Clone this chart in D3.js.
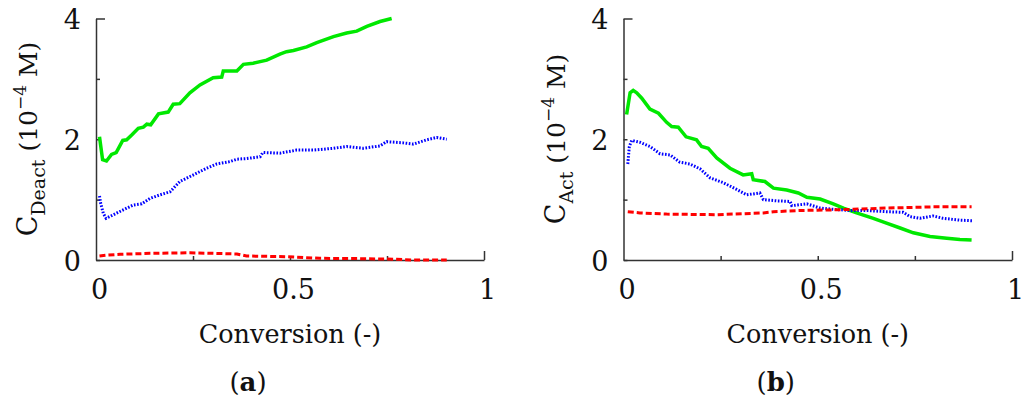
<!DOCTYPE html>
<html>
<head>
<meta charset="utf-8">
<script src="https://cdn.jsdelivr.net/npm/d3@7"></script>
<style>
  html, body { margin: 0; padding: 0; background: #fff; }
  svg { display: block; }
  text { font-family: "DejaVu Serif", serif; fill: #111; }
</style>
</head>
<body>
<svg id="chart" width="1024" height="402"></svg>
<script>
// ---- data ----
const xTicks = [0, 0.25, 0.5, 0.75, 1];
const xTickLabels = [0, 0.5, 1];
const yTicks = [0, 1, 2, 3, 4];
const yTickLabels = [0, 2, 4];

// Panel (a): C_Deact
const aGreen = [[0.009,2.04],[0.017,1.66],[0.027,1.64],[0.040,1.75],[0.052,1.78],[0.069,1.98],[0.079,1.99],[0.092,2.07],[0.109,2.18],[0.122,2.20],[0.131,2.25],[0.141,2.24],[0.161,2.42],[0.186,2.45],[0.199,2.58],[0.216,2.59],[0.242,2.77],[0.268,2.90],[0.302,3.02],[0.324,3.03],[0.328,3.13],[0.363,3.13],[0.380,3.24],[0.405,3.26],[0.440,3.31],[0.474,3.41],[0.491,3.45],[0.509,3.47],[0.543,3.53],[0.569,3.60],[0.612,3.70],[0.646,3.76],[0.672,3.79],[0.698,3.87],[0.732,3.95],[0.762,4.00]];
const aBlue = [[0.009,1.06],[0.012,0.94],[0.019,0.77],[0.026,0.69],[0.045,0.75],[0.070,0.83],[0.096,0.91],[0.118,0.93],[0.139,1.02],[0.165,1.08],[0.191,1.13],[0.216,1.30],[0.251,1.41],[0.285,1.52],[0.311,1.59],[0.345,1.63],[0.363,1.67],[0.388,1.68],[0.423,1.71],[0.430,1.78],[0.474,1.77],[0.517,1.82],[0.560,1.82],[0.612,1.85],[0.646,1.88],[0.689,1.85],[0.732,1.89],[0.749,1.96],[0.792,1.94],[0.818,1.92],[0.852,1.99],[0.878,2.03],[0.904,2.00]];
const aRed = [[0.009,0.066],[0.028,0.08],[0.062,0.094],[0.139,0.11],[0.242,0.12],[0.363,0.10],[0.388,0.066],[0.491,0.055],[0.577,0.028],[0.689,0.022],[0.775,0.012],[0.818,0.0],[0.904,0.0]];

// Panel (b): C_Act
const bGreen = [[0.008,2.41],[0.017,2.77],[0.025,2.81],[0.034,2.77],[0.047,2.68],[0.068,2.50],[0.090,2.43],[0.111,2.28],[0.124,2.21],[0.141,2.20],[0.161,2.04],[0.188,1.99],[0.201,1.88],[0.218,1.85],[0.240,1.69],[0.274,1.52],[0.308,1.41],[0.330,1.43],[0.334,1.33],[0.364,1.30],[0.386,1.19],[0.420,1.16],[0.450,1.11],[0.472,1.04],[0.506,1.01],[0.540,0.93],[0.566,0.86],[0.600,0.78],[0.643,0.69],[0.677,0.61],[0.712,0.53],[0.746,0.45],[0.789,0.39],[0.832,0.36],[0.866,0.34],[0.896,0.33]];
const bBlue = [[0.011,1.59],[0.015,1.88],[0.021,1.98],[0.042,1.95],[0.068,1.88],[0.094,1.76],[0.120,1.74],[0.145,1.62],[0.171,1.59],[0.197,1.51],[0.223,1.36],[0.257,1.28],[0.291,1.17],[0.317,1.08],[0.351,1.11],[0.360,1.00],[0.394,0.98],[0.429,0.97],[0.433,0.90],[0.472,0.93],[0.506,0.86],[0.540,0.84],[0.583,0.82],[0.626,0.82],[0.677,0.80],[0.720,0.79],[0.737,0.72],[0.763,0.69],[0.797,0.73],[0.823,0.69],[0.866,0.66],[0.900,0.65]];
const bRed = [[0.011,0.80],[0.042,0.78],[0.111,0.76],[0.240,0.75],[0.360,0.78],[0.386,0.80],[0.455,0.82],[0.540,0.83],[0.591,0.84],[0.677,0.86],[0.797,0.88],[0.896,0.88]];

// ---- drawing ----
const svg = d3.select("#chart");
const styles = {
  green: { stroke: "#00e800", width: 3.5, dash: null },
  blue:  { stroke: "#0000ff", width: 3, dash: "1.6,1.6" },
  red:   { stroke: "#ff0000", width: 3, dash: "6,3" }
};

function drawPanel(cfg) {
  const x = d3.scaleLinear().domain([0, 1]).range([cfg.x0, cfg.x1]);
  const y = d3.scaleLinear().domain([0, 4]).range([260, 18.5]);
  const g = svg.append("g");

  // y axis
  const ya = g.append("g").attr("transform", `translate(${cfg.x0},0)`)
    .call(d3.axisLeft(y).tickValues(yTicks).tickSizeInner(-4).tickSizeOuter(0).tickPadding(15)
      .tickFormat(d => yTickLabels.includes(d) ? d3.format("")(d) : ""));
  ya.select(".domain").attr("stroke", "#333").attr("stroke-width", 1.5);
  ya.selectAll(".tick line").attr("stroke", "#333").attr("stroke-width", 1.5)
    .attr("x2", d => d === 4 ? 9 : 4);
  ya.selectAll(".tick text").attr("font-size", 27).attr("font-family", "DejaVu Serif").attr("fill", "#111")
    .attr("dy", "0.38em");

  // x axis
  const xa = g.append("g").attr("transform", "translate(0,260)")
    .call(d3.axisBottom(x).tickValues(xTicks).tickSizeInner(-4).tickSizeOuter(0).tickPadding(20)
      .tickFormat(d => xTickLabels.includes(d) ? d3.format("")(d) : ""));
  xa.select(".domain").attr("stroke", "#333").attr("stroke-width", 1.5);
  xa.selectAll(".tick line").attr("stroke", "#333").attr("stroke-width", 1.5)
    .attr("y2", d => d === 1 ? -9 : (d === 0 ? 0 : -4));
  xa.selectAll(".tick text").attr("font-size", 27).attr("font-family", "DejaVu Serif").attr("fill", "#111")
    .attr("dx", 3);

  // lines
  const line = d3.line().x(d => x(d[0])).y(d => y(d[1]));
  cfg.series.forEach(s => {
    const st = styles[s.style];
    g.append("path").datum(s.data)
      .attr("d", line)
      .attr("fill", "none")
      .attr("stroke", st.stroke)
      .attr("stroke-width", st.width)
      .attr("stroke-linejoin", "miter")
      .attr("stroke-dasharray", st.dash);
  });

  // y title
  const yt = g.append("text")
    .attr("transform", `translate(${cfg.x0 - 59},139) rotate(-90)`)
    .attr("text-anchor", "middle")
    .attr("font-size", 25);
  yt.append("tspan").attr("font-size", 27).text("C");
  yt.append("tspan").attr("font-size", 19).attr("dy", 8).text(cfg.sub);
  yt.append("tspan").attr("dy", -8).text(" (10");
  yt.append("tspan").attr("font-size", 17).attr("dy", -11).text("\u22124");
  yt.append("tspan").attr("dy", 11).text(" M)");

  // x title
  g.append("text")
    .attr("x", (cfg.x0 + cfg.x1) / 2)
    .attr("y", 343)
    .attr("text-anchor", "middle")
    .attr("font-size", 25.5)
    .text("Conversion (-)");

  // panel label
  const pl = g.append("text")
    .attr("x", (cfg.x0 + cfg.x1) / 2 - 42)
    .attr("y", 391)
    .attr("text-anchor", "middle")
    .attr("font-size", 26);
  pl.append("tspan").text("(");
  pl.append("tspan").attr("font-weight", "bold").text(cfg.label);
  pl.append("tspan").text(")");
}

drawPanel({ x0: 96, x1: 484, sub: "Deact", label: "a",
  series: [{ data: aGreen, style: "green" }, { data: aBlue, style: "blue" }, { data: aRed, style: "red" }] });
drawPanel({ x0: 623.5, x1: 1012, sub: "Act", label: "b",
  series: [{ data: bGreen, style: "green" }, { data: bBlue, style: "blue" }, { data: bRed, style: "red" }] });
</script>
</body>
</html>
